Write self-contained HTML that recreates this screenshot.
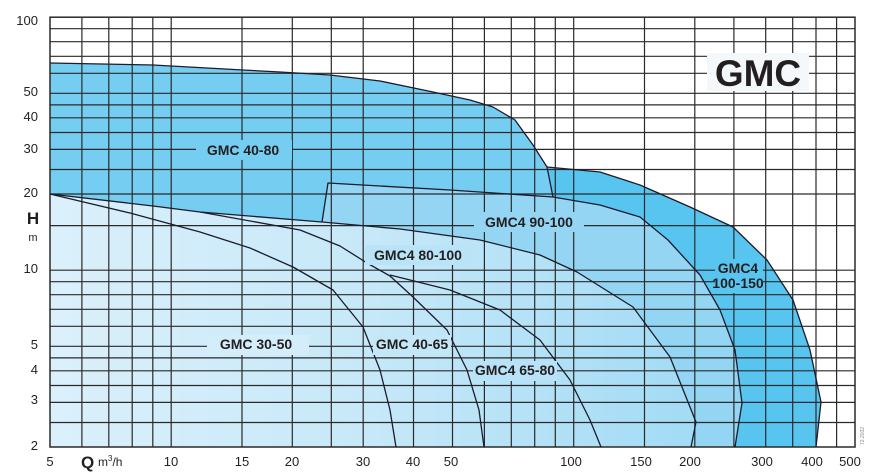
<!DOCTYPE html>
<html><head><meta charset="utf-8"><style>
html,body{margin:0;padding:0;background:#fff;}
svg{display:block;}
text{font-family:"Liberation Sans",Arial,sans-serif;fill:#231f20;}
.t{font-size:13px;}
.b{font-size:14px;font-weight:bold;}
</style></head><body>
<svg width="874" height="472" viewBox="0 0 874 472" xmlns="http://www.w3.org/2000/svg">
<defs>
<linearGradient id="lg" x1="50" y1="0" x2="700" y2="0" gradientUnits="userSpaceOnUse">
<stop offset="0" stop-color="#dbf0fb"/><stop offset="0.5" stop-color="#c6e8f8"/><stop offset="1" stop-color="#a2dbf5"/>
</linearGradient>
</defs>
<rect x="0" y="0" width="874" height="472" fill="#fff"/>
<!-- regions -->
<path d="M547,167 L600,172 L640,185 L690,207 L733,227 L767,260 L793,300 L810,350 L821,402 L816,447 L735,447 L742,403 L735,350 L720,310 L700,275 L668,240 L640,217 L600,205 L553,197 Z" fill="#57c5ef"/>
<path d="M328,183 L450,190 L553,197 L600,205 L640,217 L668,240 L700,275 L720,310 L735,350 L742,403 L735,447 L691,447 L696,422 L670,357 L633,307 L577,272 L540,255 L480,240 L400,229 L322,222 Z" fill="#93d5f3"/>
<path d="M50,63 L153,65 L243,70 L280,72 L330,75 L380,81 L433,92 L470,100 L493,107 L515,120 L533,145 L547,167 L553,197 L450,190 L328,183 L322,222 L200,212 L153,206 L50,194 Z" fill="#75cdf1"/>
<path d="M50,194 L153,206 L200,212 L322,222 L400,229 L480,240 L540,255 L577,272 L633,307 L670,357 L696,422 L691,447 L50,447 Z" fill="url(#lg)"/>
<!-- grid -->
<g stroke="#2a2a2a" stroke-width="1.2" fill="none">
<path d="M50,28.7H855M50,41.7H855M50,56.3H855M50,73.3H855M50,93.3H855M50,104.9H855M50,117.8H855M50,132.5H855M50,149.4H855M50,169.5H855M50,194H855M50,225.6H855M50,270.2H855M50,281.7H855M50,294.7H855M50,309.3H855M50,326.3H855M50,346.3H855M50,357.9H855M50,370.8H855M50,385.5H855M50,402.4H855M50,422.5H855"/>
<path d="M81.9,17V447M108.8,17V447M132.2,17V447M152.8,17V447M171.2,17V447M242,17V447M292.3,17V447M331.3,17V447M363.2,17V447M413.5,17V447M452.5,17V447M484.4,17V447M511.3,17V447M534.7,17V447M555.3,17V447M573.7,17V447M644.5,17V447M694.8,17V447M733.9,17V447M765.7,17V447M792.7,17V447M816,17V447M836.6,17V447"/>
<rect x="50" y="17.2" width="805" height="429.8" stroke-width="1.5"/>
</g>
<!-- curves -->
<g stroke="#1c1c2c" stroke-width="1.3" fill="none" stroke-linejoin="round">
<path d="M50,63 L153,65 L243,70 L280,72 L330,75 L380,81 L433,92 L470,100 L493,107 L515,120 L533,145 L547,167 L553,197"/>
<path d="M547,167 L600,172 L640,185 L690,207 L733,227 L767,260 L793,300 L810,350 L821,402 L816,447"/>
<path d="M322,222 L328,183 L450,190 L553,197 L600,205 L640,217 L668,240 L700,275 L720,310 L735,350 L742,403 L735,447"/>
<path d="M50,194 L153,206 L200,212 L322,222 L400,229 L480,240 L540,255 L577,272 L633,307 L670,357 L696,422 L691,447"/>
<path d="M200,212 L300,230 L340,246 L367,263 L390,276 L413,297 L447,330 L467,370 L479,410 L484,447"/>
<path d="M390,275 L450,290 L500,310 L540,340 L570,380 L590,420 L601,447"/>
<path d="M50,194 L130,213 L200,232 L250,248 L293,267 L333,290 L363,327 L380,370 L390,410 L396,447"/>
</g>
<!-- labels -->
<rect x="196" y="140" width="96" height="20" fill="#75cdf1"/>
<text class="b" x="243" y="155" text-anchor="middle">GMC 40-80</text>
<rect x="474" y="212" width="110" height="20" fill="#93d5f3"/>
<text class="b" x="529" y="227" text-anchor="middle">GMC4 90-100</text>
<rect x="365" y="245" width="106" height="20" fill="#b9e3f7"/>
<text class="b" x="418" y="260" text-anchor="middle">GMC4 80-100</text>
<rect x="207" y="335" width="102" height="20" fill="#d3edfa"/>
<text class="b" x="256" y="349" text-anchor="middle">GMC 30-50</text>
<rect x="373" y="335" width="78" height="20" fill="#c4e7f8"/>
<text class="b" x="412" y="349" text-anchor="middle">GMC 40-65</text>
<rect x="473" y="361" width="84" height="20" fill="#b8e2f7"/>
<text class="b" x="515" y="375" text-anchor="middle">GMC4 65-80</text>
<rect x="715" y="259" width="48" height="34" fill="#57c5ef"/>
<text class="b" x="738" y="273" text-anchor="middle">GMC4</text>
<text class="b" x="738" y="288" text-anchor="middle">100-150</text>
<rect x="707" y="53" width="102" height="38" fill="#f4f8fb"/>
<text x="758" y="86" text-anchor="middle" style="font-size:37px;font-weight:bold;">GMC</text>
<!-- y ticks -->
<g class="t" text-anchor="end">
<text class="t" x="38" y="25">100</text>
<text class="t" x="38" y="96">50</text>
<text class="t" x="38" y="121">40</text>
<text class="t" x="38" y="153">30</text>
<text class="t" x="38" y="197">20</text>
<text class="t" x="38" y="273">10</text>
<text class="t" x="38" y="349">5</text>
<text class="t" x="38" y="374">4</text>
<text class="t" x="38" y="404">3</text>
<text class="t" x="38" y="450">2</text>
</g>
<text x="33" y="224" text-anchor="middle" style="font-size:17px;font-weight:bold;">H</text>
<text x="33" y="241" text-anchor="middle" style="font-size:11px;">m</text>
<!-- x ticks -->
<g text-anchor="middle">
<text class="t" x="50" y="466">5</text>
<text class="t" x="171" y="466">10</text>
<text class="t" x="242" y="466">15</text>
<text class="t" x="292" y="466">20</text>
<text class="t" x="363" y="466">30</text>
<text class="t" x="413" y="466">40</text>
<text class="t" x="451" y="466">50</text>
<text class="t" x="571" y="466">100</text>
<text class="t" x="641" y="466">150</text>
<text class="t" x="690" y="466">200</text>
<text class="t" x="762" y="466">300</text>
<text class="t" x="812" y="466">400</text>
<text class="t" x="850" y="466">500</text>
</g>
<text x="81" y="468" style="font-size:17px;font-weight:bold;">Q</text>
<text x="98" y="466" style="font-size:12px;">m<tspan dy="-5" style="font-size:8px;">3</tspan><tspan dy="5">/h</tspan></text>
<text x="0" y="0" transform="translate(864,445) rotate(-90)" style="font-size:5px;fill:#888;">72.2032</text>
</svg>
</body></html>
